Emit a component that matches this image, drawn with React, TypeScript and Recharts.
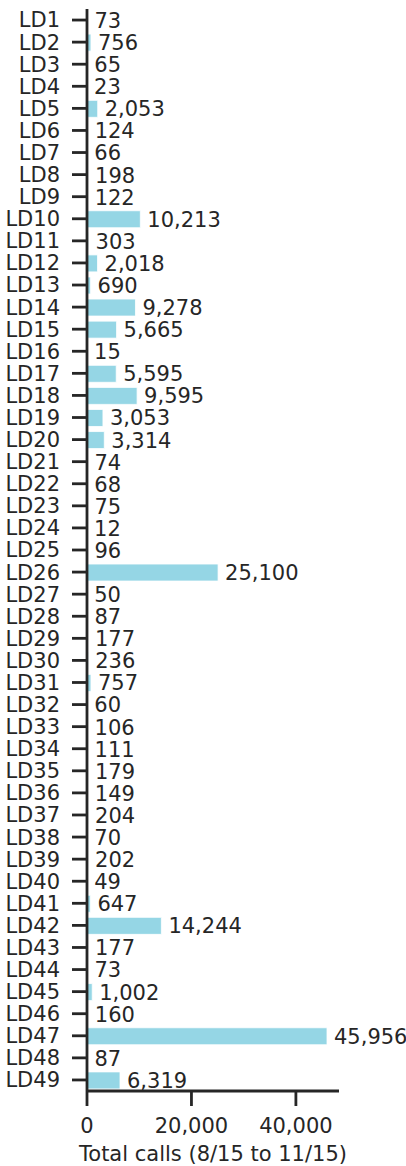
import React from "react";
import { BarChart, Bar, XAxis, YAxis, LabelList, Label } from "recharts";

const categories = [
  "LD1","LD2","LD3","LD4","LD5","LD6","LD7","LD8","LD9","LD10",
  "LD11","LD12","LD13","LD14","LD15","LD16","LD17","LD18","LD19","LD20",
  "LD21","LD22","LD23","LD24","LD25","LD26","LD27","LD28","LD29","LD30",
  "LD31","LD32","LD33","LD34","LD35","LD36","LD37","LD38","LD39","LD40",
  "LD41","LD42","LD43","LD44","LD45","LD46","LD47","LD48","LD49",
];

const totalCalls = [
  73, 756, 65, 23, 2053, 124, 66, 198, 122, 10213,
  303, 2018, 690, 9278, 5665, 15, 5595, 9595, 3053, 3314,
  74, 68, 75, 12, 96, 25100, 50, 87, 177, 236,
  757, 60, 106, 111, 179, 149, 204, 70, 202, 49,
  647, 14244, 177, 73, 1002, 160, 45956, 87, 6319,
];

const xTicks = [0, 20000, 40000];
const xTitle = "Total calls (8/15 to 11/15)";

const data = categories.map((name, i) => ({ name, value: totalCalls[i] }));

const FONT = "'DejaVu Sans', sans-serif";
const INK = "#262626";
const fmt = (v: number) => v.toLocaleString("en-US");

export default function App() {
  return (
    <div style={{ position: "absolute", left: 0, top: 0 }}>
      <BarChart
        width={406}
        height={1166}
        data={data}
        layout="vertical"
        margin={{ top: 9, right: 67, bottom: 0, left: 0 }}
        barCategoryGap={0}
      >
        <XAxis
          type="number"
          domain={[0, (m: number) => m * 1.05]}
          ticks={xTicks}
          tickFormatter={fmt}
          height={75}
          axisLine={{ stroke: INK, strokeWidth: 2.8 }}
          tickLine={{ stroke: INK, strokeWidth: 2.8 }}
          tickSize={15}
          tickMargin={12}
          tick={{ fill: INK, fontSize: 21, fontFamily: FONT }}
          allowDataOverflow
        >
          <Label
            value={xTitle}
            position="insideBottom"
            offset={5}
            style={{ fill: INK, fontSize: 21, fontFamily: FONT }}
          />
        </XAxis>
        <YAxis
          type="category"
          dataKey="name"
          width={87}
          interval={0}
          axisLine={{ stroke: INK, strokeWidth: 2.8 }}
          tickLine={{ stroke: INK, strokeWidth: 2.8 }}
          tickSize={15}
          tickMargin={12}
          tick={{ fill: INK, fontSize: 21, fontFamily: FONT }}
        />
        <Bar
          dataKey="value"
          fill="#95D6E5"
          stroke="#ffffff"
          strokeWidth={0.8}
          barSize={17}
          isAnimationActive={false}
        >
          <LabelList
            dataKey="value"
            position="right"
            offset={7}
            formatter={(v: any) => fmt(Number(v))}
            style={{ fill: INK, fontSize: 21, fontFamily: FONT }}
          />
        </Bar>
      </BarChart>
    </div>
  );
}
